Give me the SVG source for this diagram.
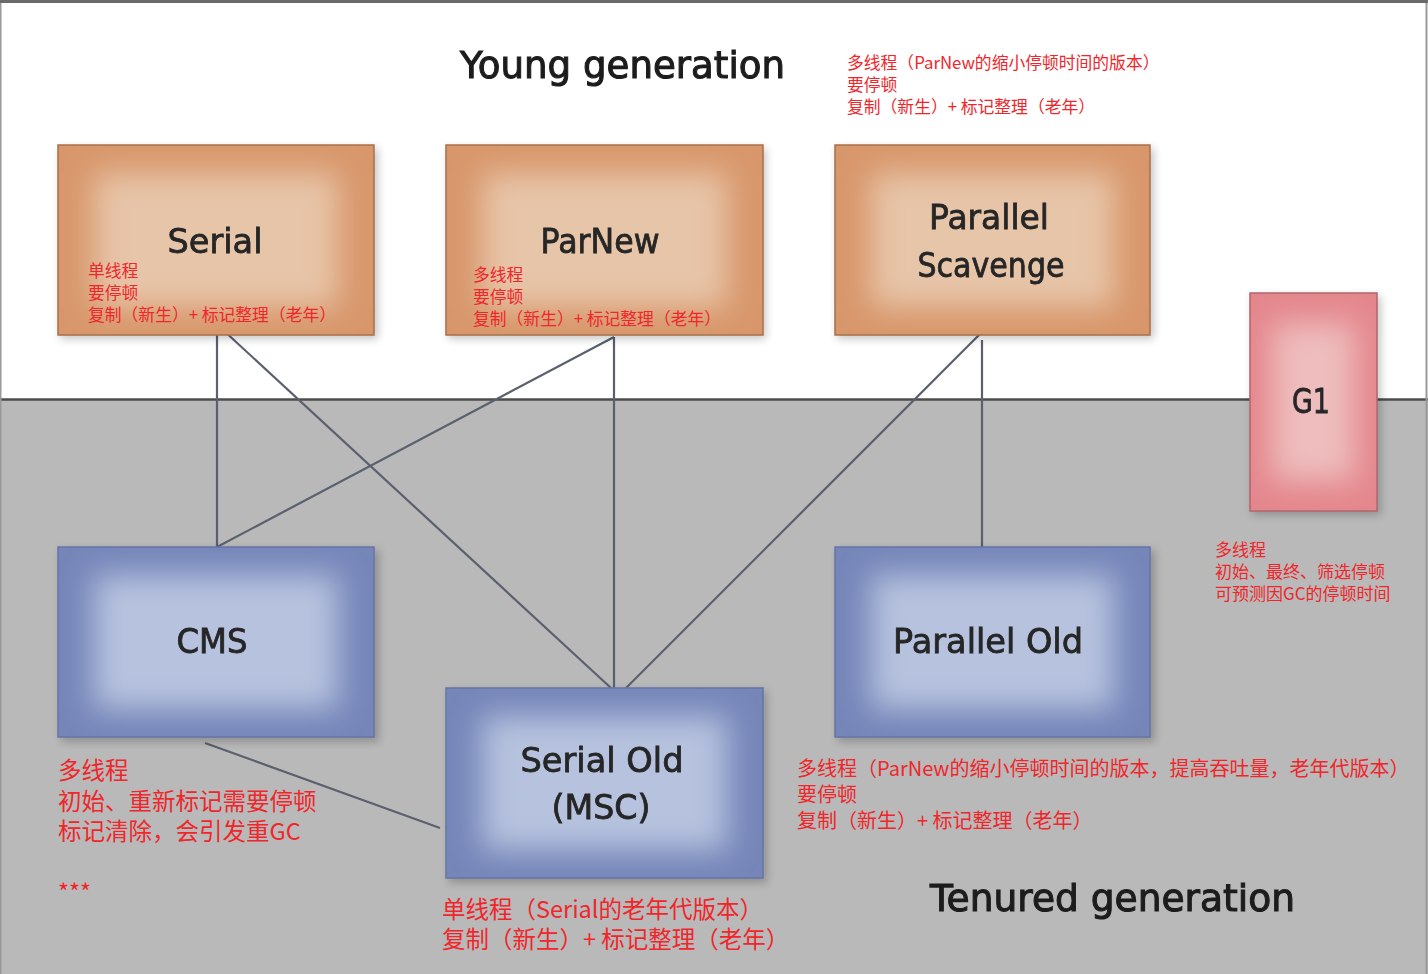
<svg xmlns="http://www.w3.org/2000/svg" width="1428" height="974" viewBox="0 0 1428 974">
<defs>
<filter id="pillow" x="-60%" y="-60%" width="220%" height="220%"><feGaussianBlur stdDeviation="15"/></filter>
<filter id="shadow" x="-20%" y="-20%" width="140%" height="140%"><feGaussianBlur stdDeviation="4"/></filter>
<filter id="tblur" x="-5%" y="-20%" width="110%" height="140%"><feGaussianBlur stdDeviation="0.6"/></filter>
<style>
.lab{font-family:"DejaVu Sans","Liberation Sans",sans-serif;fill:#262626;stroke:#262626;stroke-width:0.8;text-anchor:middle;filter:url(#tblur)}
.gen{font-family:"DejaVu Sans","Liberation Sans",sans-serif;fill:#1e1e1e;stroke:#1e1e1e;stroke-width:1.1;filter:url(#tblur)}
.red{font-family:"Noto Sans CJK SC","Noto Sans",sans-serif;fill:#f0262b}
.s{font-size:16.8px}
.m{font-size:20px}
.l{font-size:23.5px}
.conn line{stroke:#5b606e;stroke-width:2.2;fill:none}
.sh{fill:#000;opacity:0.22;filter:url(#shadow)}
.or-e{fill:#d8976b}.or-c{fill:#e7c5a9}.or-b{fill:none;stroke:#a8704c;stroke-width:1.5}
.bl-e{fill:#7686b9}.bl-c{fill:#b6c2de}.bl-b{fill:none;stroke:#6674a6;stroke-width:1.5}
.g-e{fill:#e4878d}.g-c{fill:#eebdbd}.g-b{fill:none;stroke:#b0666c;stroke-width:1.5}
</style>
</defs>
<!-- background -->
<rect x="0" y="0" width="1428" height="400" fill="#ffffff"/>
<rect x="0" y="400" width="1428" height="574" fill="#b9b9b9"/>
<line x1="0" y1="399.5" x2="1428" y2="399.5" stroke="#4d4d4d" stroke-width="2.5"/>
<rect x="0.5" y="1.5" width="1426" height="980" fill="none" stroke="#9a9a9a" stroke-width="2"/>
<line x1="0" y1="1.5" x2="1428" y2="1.5" stroke="#6a6a6a" stroke-width="3"/>

<text class="gen" x="460" y="78" font-size="38" textLength="325" lengthAdjust="spacingAndGlyphs">Young generation</text>
<text class="gen" x="930" y="911" font-size="38" textLength="365" lengthAdjust="spacingAndGlyphs">Tenured generation</text>

<g id="connectors" class="conn">
<line x1="217" y1="335" x2="217" y2="547"/>
<line x1="222" y1="329" x2="611" y2="688"/>
<line x1="614" y1="337" x2="217" y2="547"/>
<line x1="614" y1="337" x2="614" y2="688"/>
<line x1="981" y1="333" x2="626" y2="688"/>
<line x1="982" y1="340" x2="982" y2="547"/>
<line x1="205" y1="743" x2="440" y2="828"/>
</g>

<g id="serial">
<rect class="sh" x="60" y="148" width="318" height="191"/>
<svg x="58" y="145" width="316" height="190"><rect class="or-e" width="316" height="190"/><rect class="or-c" x="36" y="28" width="244" height="134" filter="url(#pillow)"/></svg>
<rect class="or-b" x="58" y="145" width="316" height="190"/>
<text class="lab" x="215" y="253" font-size="34" textLength="95" lengthAdjust="spacingAndGlyphs">Serial</text>
<text class="red s" x="88" y="277">单线程</text>
<text class="red s" x="88" y="299">要停顿</text>
<text class="red s" x="88" y="321">复制（新生）+ 标记整理（老年）</text>
</g>

<g id="parnew">
<rect class="sh" x="448" y="148" width="318" height="191"/>
<svg x="446" y="145" width="317" height="190"><rect class="or-e" width="317" height="190"/><rect class="or-c" x="36" y="28" width="245" height="134" filter="url(#pillow)"/></svg>
<rect class="or-b" x="446" y="145" width="317" height="190"/>
<text class="lab" x="600" y="253" font-size="34" textLength="119" lengthAdjust="spacingAndGlyphs">ParNew</text>
<text class="red s" x="473" y="281">多线程</text>
<text class="red s" x="473" y="303">要停顿</text>
<text class="red s" x="473" y="325">复制（新生）+ 标记整理（老年）</text>
</g>

<g id="parallel-scavenge">
<rect class="sh" x="837" y="148" width="317" height="191"/>
<svg x="835" y="145" width="315" height="190"><rect class="or-e" width="315" height="190"/><rect class="or-c" x="36" y="28" width="243" height="134" filter="url(#pillow)"/></svg>
<rect class="or-b" x="835" y="145" width="315" height="190"/>
<text class="lab" x="989" y="229" font-size="34" textLength="120" lengthAdjust="spacingAndGlyphs">Parallel</text>
<text class="lab" x="991" y="277" font-size="34" textLength="147" lengthAdjust="spacingAndGlyphs">Scavenge</text>
<text class="red s" x="847" y="69">多线程（ParNew的缩小停顿时间的版本）</text>
<text class="red s" x="847" y="91">要停顿</text>
<text class="red s" x="847" y="113">复制（新生）+ 标记整理（老年）</text>
</g>

<g id="g1">
<rect class="sh" x="1252" y="296" width="129" height="219"/>
<svg x="1250" y="293" width="127" height="218"><rect class="g-e" width="127" height="218"/><rect class="g-c" x="22" y="30" width="83" height="158" filter="url(#pillow)"/></svg>
<rect class="g-b" x="1250" y="293" width="127" height="218"/>
<text class="lab" x="1311" y="413" font-size="34" textLength="38" lengthAdjust="spacingAndGlyphs">G1</text>
<text class="red" x="1215" y="556" font-size="17">多线程</text>
<text class="red" x="1215" y="578" font-size="17">初始、最终、筛选停顿</text>
<text class="red" x="1215" y="600" font-size="17">可预测因GC的停顿时间</text>
</g>

<g id="cms">
<rect class="sh" x="61" y="550" width="318" height="192"/>
<svg x="58" y="547" width="316" height="190"><rect class="bl-e" width="316" height="190"/><rect class="bl-c" x="36" y="28" width="244" height="134" filter="url(#pillow)"/></svg>
<rect class="bl-b" x="58" y="547" width="316" height="190"/>
<text class="lab" x="212" y="653" font-size="34" textLength="71" lengthAdjust="spacingAndGlyphs">CMS</text>
<text class="red l" x="58" y="779">多线程</text>
<text class="red l" x="58" y="810">初始、重新标记需要停顿</text>
<text class="red l" x="58" y="840">标记清除，会引发重GC</text>
<text class="red l" x="58" y="901">***</text>
</g>

<g id="serial-old">
<rect class="sh" x="449" y="691" width="318" height="192"/>
<svg x="446" y="688" width="317" height="190"><rect class="bl-e" width="317" height="190"/><rect class="bl-c" x="36" y="28" width="245" height="134" filter="url(#pillow)"/></svg>
<rect class="bl-b" x="446" y="688" width="317" height="190"/>
<text class="lab" x="602" y="772" font-size="34" textLength="163" lengthAdjust="spacingAndGlyphs">Serial Old</text>
<text class="lab" x="601" y="819" font-size="34" textLength="99" lengthAdjust="spacingAndGlyphs">(MSC)</text>
<text class="red l" x="442" y="918">单线程（Serial的老年代版本）</text>
<text class="red l" x="442" y="948">复制（新生）+ 标记整理（老年）</text>
</g>

<g id="parallel-old">
<rect class="sh" x="838" y="550" width="317" height="192"/>
<svg x="835" y="547" width="315" height="190"><rect class="bl-e" width="315" height="190"/><rect class="bl-c" x="36" y="28" width="243" height="134" filter="url(#pillow)"/></svg>
<rect class="bl-b" x="835" y="547" width="315" height="190"/>
<text class="lab" x="988" y="653" font-size="34" textLength="190" lengthAdjust="spacingAndGlyphs">Parallel Old</text>
<text class="red m" x="797" y="776">多线程（ParNew的缩小停顿时间的版本，提高吞吐量，老年代版本）</text>
<text class="red m" x="797" y="802">要停顿</text>
<text class="red m" x="797" y="828">复制（新生）+ 标记整理（老年）</text>
</g>
</svg>
